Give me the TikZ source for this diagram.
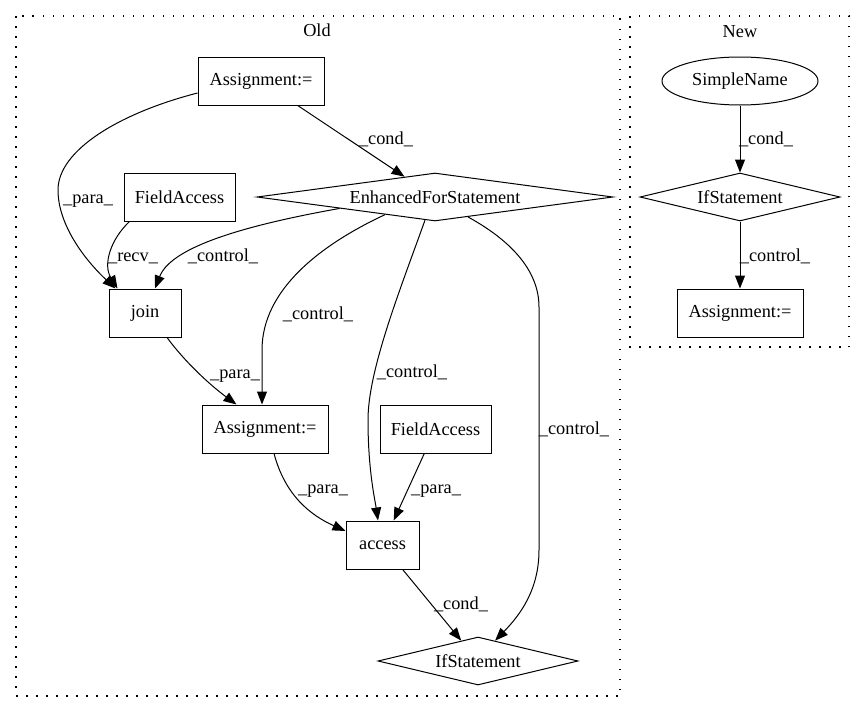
\documentclass[tikz,border=0pt]{standalone}
\usepackage{fontspec}
\setmainfont{Liberation Serif}
\usetikzlibrary{arrows.meta,shapes.geometric,calc}
\begin{document}
\begin{tikzpicture}[x=1pt,y=-1pt,
  font=\fontsize{18.3}{22}\selectfont,
  box/.style={draw, rectangle, minimum height=48pt, inner sep=0pt, line width=1pt},
  dia/.style={draw, diamond, inner sep=0pt, minimum height=48pt, line width=1pt},
  ell/.style={draw, ellipse, inner sep=0pt, minimum height=48pt, line width=1pt},
  edge/.style={-{Triangle[length=13pt,width=10pt]}, line width=1pt},
  lbl/.style={anchor=base, inner sep=0pt},
  cluster/.style={draw, dash pattern=on 1.5pt off 8.5pt, line width=1.4pt}]
\useasboundingbox (0,0) rectangle (865,712);

% clusters
\draw[cluster] (16,16) rectangle (620,696);
\draw[cluster] (630,16) rectangle (849,347);
\node[lbl] (oldlbl) at (317,36) {Old};
\node[lbl] (newlbl) at (740,37) {New};

% Old nodes
\node[box, minimum width=126pt] (asg1) at (261,81) {Assignment:=};
\node[box, minimum width=111pt] (fa1) at (179.5,197) {FieldAccess};
\node[dia, minimum width=356pt, shape aspect=7.42] (efs) at (435,197) {EnhancedForStatement};
\node[box, minimum width=72pt] (join) at (145,313) {join};
\node[box, minimum width=126pt] (asg2) at (265,429) {Assignment:=};
\node[box, minimum width=111pt] (fa2) at (435.5,429) {FieldAccess};
\node[box, minimum width=73pt] (access) at (382.5,545) {access};
\node[dia, minimum width=200pt, shape aspect=4.17] (if1) at (478,661) {IfStatement};

% New nodes
\node[ell, minimum width=156pt] (sn) at (740,81) {SimpleName};
\node[dia, minimum width=200pt, shape aspect=4.17] (if2) at (740,197) {IfStatement};
\node[box, minimum width=126pt] (asg3) at (740,313) {Assignment:=};

% Old edges
\draw[edge] (asg1) -- (efs);
\node[lbl] (l1) at (386,144) {\_cond\_};

\draw[edge] ($(asg1.west)+(0,12)$) .. controls (120,113) and (58,150) .. (58,190)
  .. controls (58,225) and (85,260) .. ($(join.north west)+(7,0)$);
\node[lbl] (l2) at (88,203) {\_para\_};

\draw[edge] ($(fa1.south west)+(6,0)$) .. controls (110,240) and (103,265) .. ($(join.north west)+(9,0)$);
\node[lbl] (l3) at (133,261) {\_recv\_};

\draw[edge] ($(efs.west)!0.466!(efs.south)$) .. controls (230,228) and (170,250) .. ($(join.north)+(10,0)$);
\node[lbl] (l4) at (223,261) {\_control\_};

\draw[edge] ($(efs.west)!0.72!(efs.south)$) .. controls (320,245) and (262,290) .. (262,350)
  -- ($(asg2.north)+(-3,0)$);
\node[lbl] (l5) at (318,319) {\_control\_};

\draw[edge] ($(efs.west)!0.944!(efs.south)$) .. controls (400,290) and (368,370) .. (368,420)
  .. controls (368,470) and (375,500) .. ($(access.north)+(-4.5,0)$);
\node[lbl] (l6) at (412,377) {\_control\_};

\draw[edge] ($(efs.south)!0.185!(efs.east)$) .. controls (510,240) and (539,270) .. (539,307)
  -- (539,550) .. controls (539,590) and (520,615) .. ($(if1.north)!0.17!(if1.east)$);
\node[lbl] (l7) at (574,434) {\_control\_};

\draw[edge] ($(join.south)+(22,0)$) .. controls (185,362) and (210,385) .. ($(asg2.north west)+(35,0)$);
\node[lbl] (l8) at (235,378) {\_para\_};

\draw[edge] ($(asg2.south)+(9,0)$) .. controls (285,495) and (310,515) .. ($(access.west)+(0,-14)$);
\node[lbl] (l9) at (323,493) {\_para\_};

\draw[edge] (fa2) -- (access);
\node[lbl] (l10) at (436,493) {\_para\_};

\draw[edge] (access) -- (if1);
\node[lbl] (l11) at (461,609) {\_cond\_};

% New edges
\draw[edge] (sn) -- (if2);
\node[lbl] (l12) at (766,144) {\_cond\_};
\draw[edge] (if2) -- (asg3);
\node[lbl] (l13) at (775,261) {\_control\_};
\end{tikzpicture}
\end{document}
